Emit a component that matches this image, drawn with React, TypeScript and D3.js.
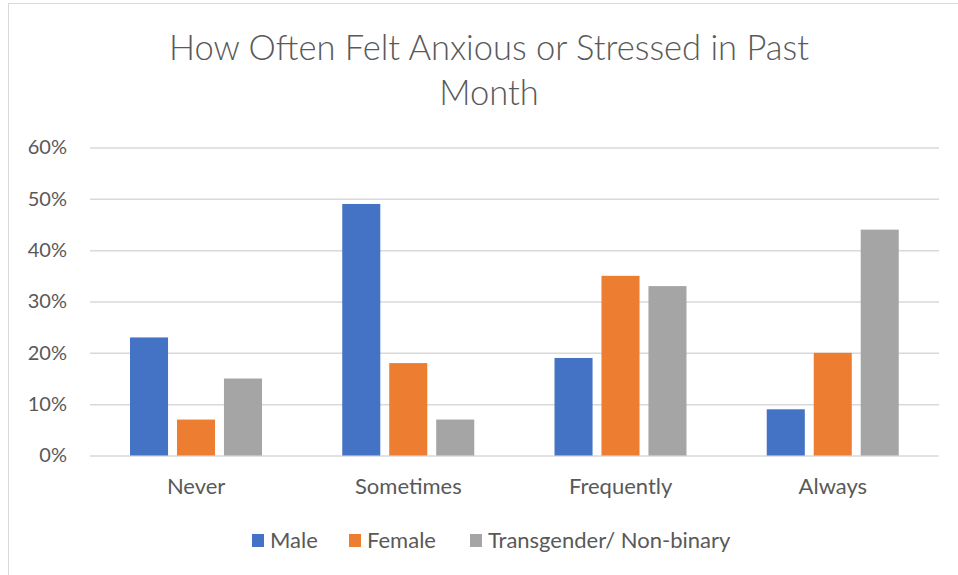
import React, { useRef, useEffect } from "react";
import { select, scaleBand, scaleLinear, axisLeft, axisBottom } from "d3";

const categories = ["Never", "Sometimes", "Frequently", "Always"];
const seriesNames = ["Male", "Female", "Transgender/ Non-binary"];
const male = [23, 49, 19, 9];
const female = [7, 18, 35, 20];
const trans = [15, 7, 33, 44];
const yTicks = [0, 10, 20, 30, 40, 50, 60];
const colors = ["#4472C4", "#ED7D31", "#A5A5A5"];

const W = 958;
const H = 575;
const FONT = "Lato, 'Open Sans', sans-serif";

function App() {
  const svgRef = useRef<SVGSVGElement>(null);

  useEffect(() => {
    const svg = select(svgRef.current);
    svg.selectAll("*").remove();

    // chart border
    svg.append("rect")
      .attr("x", 8.5).attr("y", 3.5)
      .attr("width", W + 20).attr("height", H + 20)
      .attr("fill", "#fff").attr("stroke", "#d9d9d9");

    const x0 = scaleBand().domain(categories).range([90, 939]);
    const x1 = scaleBand().domain(seriesNames).range([40, 172]).paddingInner(0.19);
    const y = scaleLinear().domain([0, 60]).range([455.5, 147.5]);

    // gridlines + y labels
    const yAxis = svg.append("g")
      .attr("transform", "translate(90,0)")
      .call(axisLeft(y).tickValues(yTicks).tickSize(-849).tickFormat(d => d + "%"));
    yAxis.select(".domain").remove();
    yAxis.selectAll(".tick line").attr("stroke", "#d9d9d9").attr("stroke-width", 1.5);
    yAxis.selectAll(".tick text")
      .attr("x", -23).attr("fill", "#595959")
      .style("font-family", FONT).style("font-size", "20px");

    const rows = [male, female, trans];
    const g = svg.append("g");
    rows.forEach((vals, si) => {
      g.append("g").attr("fill", colors[si])
        .selectAll("rect")
        .data(vals)
        .join("rect")
        .attr("x", (_, i) => (x0(categories[i]) as number) + (x1(seriesNames[si]) as number))
        .attr("width", x1.bandwidth())
        .attr("y", d => y(d))
        .attr("height", d => y(0) - y(d));
    });

    // x axis labels
    const xAxis = svg.append("g")
      .attr("transform", "translate(0,455.5)")
      .call(axisBottom(x0).tickSize(0).tickPadding(23));
    xAxis.select(".domain").remove();
    xAxis.selectAll(".tick text")
      .attr("fill", "#595959")
      .style("font-family", FONT).style("font-size", "22px");

    // title
    const title = svg.append("text")
      .attr("text-anchor", "middle").attr("fill", "#595959")
      .style("font-family", FONT).style("font-size", "34.5px").style("font-weight", 300);
    title.append("tspan").attr("x", 489).attr("y", 60).text("How Often Felt Anxious or Stressed in Past");
    title.append("tspan").attr("x", 489).attr("y", 105).text("Month");

    // legend
    const legendX = [252, 349, 470];
    const lg = svg.append("g");
    seriesNames.forEach((name, i) => {
      lg.append("rect")
        .attr("x", legendX[i]).attr("y", 534)
        .attr("width", 12).attr("height", 13)
        .attr("fill", colors[i]);
      lg.append("text")
        .attr("x", legendX[i] + 18).attr("y", 548)
        .attr("fill", "#595959")
        .style("font-family", FONT).style("font-size", "22px")
        .text(name);
    });
  }, []);

  return (
    <div style={{ position: "absolute", left: 0, top: 0 }}>
      <svg ref={svgRef} width={W} height={H} style={{ display: "block" }} />
    </div>
  );
}

export default App;
